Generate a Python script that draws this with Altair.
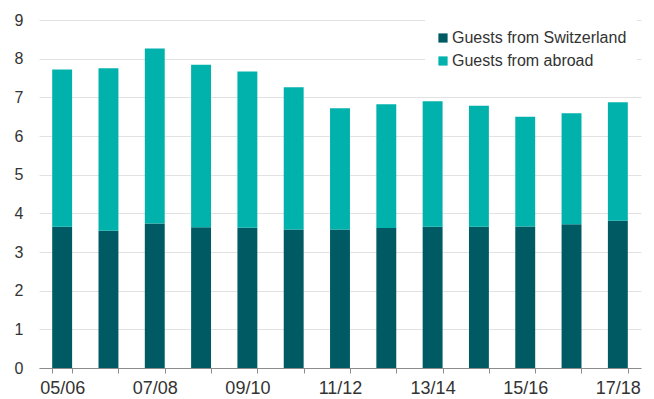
import altair as alt
import pandas as pd

seasons = ["05/06", "06/07", "07/08", "08/09", "09/10", "10/11", "11/12",
           "12/13", "13/14", "14/15", "15/16", "16/17", "17/18"]
swiss = [3.65, 3.55, 3.74, 3.64, 3.63, 3.58, 3.58, 3.62, 3.65, 3.65, 3.66, 3.72, 3.81]
abroad = [4.07, 4.20, 4.52, 4.20, 4.04, 3.68, 3.14, 3.20, 3.25, 3.13, 2.84, 2.87, 3.06]
labelled = ["05/06", "07/08", "09/10", "11/12", "13/14", "15/16", "17/18"]
series = ["Guests from Switzerland", "Guests from abroad"]
colors = ["#005a63", "#00b2ab"]

rows = []
for s, a, b in zip(seasons, swiss, abroad):
    rows.append({"season": s, "group": series[0], "value": a, "ord": 0})
    rows.append({"season": s, "group": series[1], "value": b, "ord": 1})
df = pd.DataFrame(rows)

lab_list = "[" + ",".join("'" + l + "'" for l in labelled) + "]"

font = "Liberation Sans"
tc = "#333333"

chart = alt.Chart(df).mark_bar().encode(
    x=alt.X("season:N", sort=seasons,
            scale=alt.Scale(paddingInner=0.57, paddingOuter=0.285),
            axis=alt.Axis(title=None, labelAngle=0, tickBand="extent",
                          labelOverlap=False,
                          labelExpr="indexof(" + lab_list + ", datum.value) >= 0 ? datum.label : ''",
                          domainColor="#8c8c8c", tickColor="#8c8c8c", tickSize=5,
                          labelFontSize=18, labelPadding=6, labelColor=tc, labelFont=font,
                          grid=False)),
    y=alt.Y("value:Q", stack="zero",
            scale=alt.Scale(domain=[0, 9], nice=False),
            axis=alt.Axis(title=None, values=list(range(10)), domain=False, ticks=False,
                          tickSize=0, labelPadding=16, gridColor="#e2e2e2",
                          labelFontSize=16, labelColor=tc, labelFont=font)),
    color=alt.Color("group:N", scale=alt.Scale(domain=series, range=colors),
                    legend=alt.Legend(title=None, orient="none", legendX=386, legendY=0,
                                      fillColor="white", padding=10,
                                      symbolType="square", symbolSize=85,
                                      symbolStrokeWidth=0, labelOffset=1,
                                      rowPadding=7, labelFontSize=16,
                                      labelColor=tc, labelFont=font, labelLimit=300)),
    order=alt.Order("ord:Q"),
).properties(
    width=602, height=348,
    autosize=alt.AutoSizeParams(type="none"),
    padding={"left": 31, "top": 12, "right": 5, "bottom": 30},
).configure_view(stroke=None)

chart.save("out.html", embed_options={"renderer": "svg", "actions": False})
